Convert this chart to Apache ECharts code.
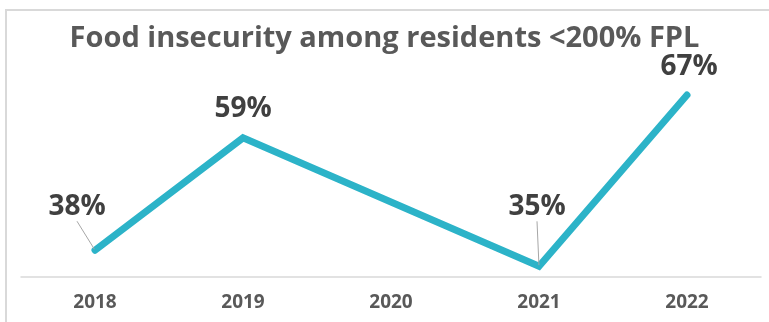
<!DOCTYPE html>
<html>
<head>
<meta charset="utf-8">
<script src="https://cdn.jsdelivr.net/npm/echarts@6/dist/echarts.min.js"></script>
<style>html,body{margin:0;padding:0;background:#fff;}#c{width:769px;height:322px;}</style>
</head>
<body>
<div id="c"></div>
<script>
const titleText = 'Food insecurity among residents <200% FPL';
const categories = ['2018', '2019', '2020', '2021', '2022'];
const values = [38, 59, null, 35, 67];
const labelOffsets = [[-18, -14], [0, 0], [0, 0], [-2, -30], [2, 1]];
const showLeader = [true, false, false, true, false];

const chart = echarts.init(document.getElementById('c'));
chart.setOption({
  animation: false,
  graphic: [
    { type: 'rect', shape: { x: 6, y: 10, width: 780, height: 330 }, style: { fill: 'none', stroke: '#d9d9d9', lineWidth: 2 } }
  ],
  title: {
    text: titleText, left: 'center', top: 19,
    textStyle: { fontFamily: 'Open Sans', fontWeight: 'bold', fontSize: 29, color: '#595959' }
  },
  grid: { left: 21, right: 8, top: 79, bottom: 45 },
  xAxis: {
    type: 'category', data: categories, boundaryGap: true,
    axisLine: { lineStyle: { color: '#d9d9d9', width: 1.5 } },
    axisTick: { show: false },
    axisLabel: { fontFamily: 'Open Sans', fontWeight: 'bold', fontSize: 19, color: '#595959', margin: 16 }
  },
  yAxis: {
    type: 'value', min: 33, max: 70, show: false, splitLine: { show: false }
  },
  series: [{
    type: 'line',
    data: values.map((v, i) => ({ value: v, labelLine: { show: showLeader[i] } })),
    connectNulls: true,
    symbol: 'circle', symbolSize: 2, showSymbol: true,
    itemStyle: { color: '#2cb3c8' },
    lineStyle: { color: '#2cb3c8', width: 7, cap: 'round', join: 'miter' },
    label: {
      show: true, position: 'top', distance: 14,
      formatter: p => p.value == null ? '' : p.value + '%',
      fontFamily: 'Open Sans', fontWeight: 'bold', fontSize: 28, color: '#404040'
    },
    labelLine: { show: true, lineStyle: { color: '#a6a6a6', width: 1 } },
    labelLayout: function (params) {
      const o = labelOffsets[params.dataIndex];
      return { dx: o[0], dy: o[1] };
    }
  }]
});
</script>
</body>
</html>
